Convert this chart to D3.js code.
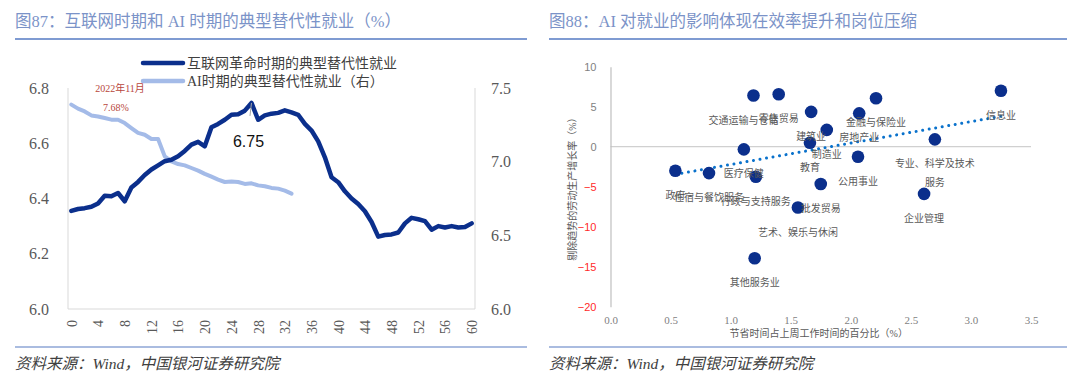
<!DOCTYPE html>
<html>
<head>
<meta charset="utf-8">
<script src="https://cdn.jsdelivr.net/npm/d3@7"></script>
<style>
  body { margin: 0; background: #fff; }
  svg text { font-family: "Liberation Serif", "Noto Sans CJK SC", serif; }
</style>
</head>
<body>
<div id="chart"></div>
<script>
// Left chart data: months since start, two series
var months = d3.range(0, 61);
var netEra = [6.355, 6.362, 6.365, 6.37, 6.382, 6.41, 6.408, 6.42, 6.39, 6.44,
  6.46, 6.485, 6.505, 6.52, 6.535, 6.54, 6.553, 6.572, 6.595, 6.605,
  6.589, 6.658, 6.67, 6.685, 6.703, 6.705, 6.718, 6.746, 6.685, 6.701,
  6.707, 6.71, 6.719, 6.712, 6.703, 6.67, 6.646, 6.607, 6.549, 6.477,
  6.459, 6.426, 6.40, 6.38, 6.354, 6.315, 6.262, 6.268, 6.27, 6.277,
  6.31, 6.33, 6.325, 6.318, 6.287, 6.30, 6.295, 6.30, 6.295, 6.297, 6.31];
var aiEra = [7.387, 7.36, 7.341, 7.314, 7.307, 7.296, 7.285, 7.285, 7.262, 7.228,
  7.195, 7.183, 7.154, 7.154, 7.036, 7.002, 6.984, 6.975, 6.957, 6.939,
  6.917, 6.898, 6.878, 6.862, 6.866, 6.862, 6.849, 6.853, 6.839, 6.833,
  6.822, 6.817, 6.803, 6.783];
var leftTicks = [6.0, 6.2, 6.4, 6.6, 6.8];
var rightTicks = [6.0, 6.5, 7.0, 7.5];
var monthTicks = d3.range(0, 61, 4);
var peakIndex = 27;

// Right chart data: industries
var industries = ["交通运输与仓储", "零售贸易", "建筑业", "教育", "医疗保健", "政府",
  "住宿与餐饮服务", "行政与支持服务", "艺术、娱乐与休闲", "批发贸易", "企业管理", "信息业",
  "其他服务业", "金融与保险业", "房地产业", "制造业", "公用事业", "专业、科学及技术|服务"];
var timeSaved = [1.19, 1.40, 1.67, 1.66, 1.11, 0.54, 0.82, 1.21, 1.56, 1.75, 2.61, 3.25,
  1.20, 2.21, 2.07, 1.80, 2.06, 2.70];
var productivity = [6.4, 6.55, 4.35, 0.5, -0.33, -3.0, -3.3, -3.75, -7.6, -4.67, -5.9, 7.0,
  -13.95, 6.05, 4.17, 2.1, -1.25, 0.92];
var scatterYTicks = [-20, -15, -10, -5, 0, 5, 10];
var scatterXTicks = [0, 0.5, 1.0, 1.5, 2.0, 2.5, 3.0, 3.5];

var svgWidth = 1080;
var svgHeight = 379;
var dark = "#0b2f8c";
var light = "#a4bbe8";
var grey = "#595959";

// labels the source nudged sideways
var labelShift = { "交通运输与仓储": -10 };

var svg = d3.select("#chart").append("svg")
  .attr("width", svgWidth)
  .attr("height", svgHeight);

// ---------- headers & footers ----------
function panelFrame(x0, x1, title) {
  svg.append("text")
    .attr("x", x0).attr("y", 27)
    .attr("font-size", 16.5)
    .attr("fill", "#7b93c8")
    .text(title);
  svg.append("line")
    .attr("x1", x0).attr("x2", x1).attr("y1", 39).attr("y2", 39)
    .attr("stroke", "#7f9bd2").attr("stroke-width", 2);
  svg.append("line")
    .attr("x1", x0).attr("x2", x1).attr("y1", 347).attr("y2", 347)
    .attr("stroke", "#8ea6d6").attr("stroke-width", 1.5);
  svg.append("text")
    .attr("x", x0).attr("y", 369)
    .attr("font-size", 15.5)
    .attr("font-style", "italic")
    .attr("fill", "#404040")
    .text("资料来源：Wind，中国银河证券研究院");
}
panelFrame(15, 527, "图87：互联网时期和 AI 时期的典型替代性就业（%）");
panelFrame(549, 1067, "图88：AI 对就业的影响体现在效率提升和岗位压缩");

// ---------- left chart ----------
var plot = { left: 68, right: 475, top: 88, bottom: 309 };

var xScale = d3.scaleLinear().domain([-0.5, 60.5]).range([plot.left, plot.right]);
var yLeft = d3.scaleLinear().domain([6.0, 6.8]).range([plot.bottom, plot.top]);
var yRight = d3.scaleLinear().domain([6.0, 7.5]).range([plot.bottom, plot.top]);

var frame = svg.append("g").attr("stroke", "#d9d9d9").attr("stroke-width", 1);
frame.append("line").attr("x1", plot.left).attr("x2", plot.left).attr("y1", plot.top).attr("y2", plot.bottom);
frame.append("line").attr("x1", plot.right).attr("x2", plot.right).attr("y1", plot.top).attr("y2", plot.bottom);
frame.append("line").attr("x1", plot.left).attr("x2", plot.right).attr("y1", plot.bottom).attr("y2", plot.bottom);

var leftAxis = svg.append("g")
  .attr("transform", `translate(${plot.left - 16}, 0)`)
  .call(d3.axisLeft(yLeft).tickValues(leftTicks).tickSize(0).tickFormat(d3.format(".1f")));
leftAxis.select(".domain").remove();
leftAxis.selectAll("text").attr("font-size", 16).attr("fill", grey)
  .style("font-family", "Liberation Serif");

var rightAxis = svg.append("g")
  .attr("transform", `translate(${plot.right + 13}, 0)`)
  .call(d3.axisRight(yRight).tickValues(rightTicks).tickSize(0).tickFormat(d3.format(".1f")));
rightAxis.select(".domain").remove();
rightAxis.selectAll("text").attr("font-size", 16).attr("fill", grey)
  .style("font-family", "Liberation Serif");

var bottomAxis = svg.append("g")
  .attr("transform", `translate(0, ${plot.bottom})`)
  .call(d3.axisBottom(xScale).tickValues(monthTicks).tickSize(0));
bottomAxis.select(".domain").remove();
bottomAxis.selectAll("text")
  .attr("font-size", 14).attr("fill", grey)
  .style("font-family", "Liberation Serif")
  .attr("transform", "rotate(-90)")
  .attr("text-anchor", "end")
  .attr("x", -11).attr("y", 0).attr("dy", "0.35em");

var lineGen = function (scale) {
  return d3.line()
    .x(function (d, i) { return xScale(months[i]); })
    .y(function (d) { return scale(d); });
};

svg.append("path").datum(aiEra)
  .attr("d", lineGen(yRight))
  .attr("fill", "none").attr("stroke", light).attr("stroke-width", 4)
  .attr("stroke-linejoin", "round").attr("stroke-linecap", "round");

svg.append("path").datum(netEra)
  .attr("d", lineGen(yLeft))
  .attr("fill", "none").attr("stroke", dark).attr("stroke-width", 4.5)
  .attr("stroke-linejoin", "round").attr("stroke-linecap", "round");

// peak annotation
var px = xScale(months[peakIndex]);
var py = yLeft(netEra[peakIndex]);
svg.append("line")
  .attr("x1", px).attr("y1", py).attr("x2", px - 1.5).attr("y2", py + 13)
  .attr("stroke", "#a6a6a6").attr("stroke-width", 1);
svg.append("text")
  .attr("x", px - 3).attr("y", py + 44)
  .attr("text-anchor", "middle")
  .attr("font-size", 16)
  .style("font-family", "Liberation Sans")
  .attr("fill", "#111")
  .text(d3.format(".2f")(netEra[peakIndex]));

// 2022 note
svg.append("text").attr("x", 120).attr("y", 92).attr("text-anchor", "middle")
  .attr("font-size", 10).attr("fill", "#b8463c").text("2022年11月");
svg.append("text").attr("x", 116).attr("y", 111).attr("text-anchor", "middle")
  .attr("font-size", 10).attr("fill", "#b8463c").text("7.68%");

// legend
var legend = svg.append("g").attr("transform", "translate(143, 63)");
[["互联网革命时期的典型替代性就业", dark], ["AI时期的典型替代性就业（右）", light]].forEach(function (item, i) {
  var g = legend.append("g").attr("transform", `translate(0, ${i * 18})`);
  g.append("line").attr("x1", 0).attr("x2", 40).attr("y1", 0).attr("y2", 0)
    .attr("stroke", item[1]).attr("stroke-width", 4.5).attr("stroke-linecap", "round");
  g.append("text").attr("x", 44).attr("y", 5)
    .attr("font-size", 14).attr("fill", "#404040").text(item[0]);
});

// ---------- right chart ----------
var sx = d3.scaleLinear().domain([0, 3.5]).range([610.5, 1031]);
var sy = d3.scaleLinear().domain([-20, 10]).range([306.7, 66.7]);

svg.append("line")
  .attr("x1", sx(0)).attr("x2", sx(3.5)).attr("y1", sy(0)).attr("y2", sy(0))
  .attr("stroke", "#d0d0d0").attr("stroke-width", 1.2);

var sAxisY = svg.append("g")
  .attr("transform", `translate(${sx(0)}, 0)`)
  .call(d3.axisLeft(sy).tickValues(scatterYTicks).tickSize(0).tickPadding(14));
sAxisY.select(".domain").attr("stroke", "#bfbfbf").attr("stroke-width", 1.2);
sAxisY.selectAll("text").attr("font-size", 11)
  .style("font-family", "Liberation Sans")
  .attr("fill", function (d) { return d < 0 ? "#ff2a2a" : "#7f7f7f"; });

var sAxisX = svg.append("g")
  .attr("transform", `translate(0, ${sy(-20)})`)
  .call(d3.axisBottom(sx).tickValues(scatterXTicks).tickSize(0).tickPadding(10).tickFormat(d3.format(".1f")));
sAxisX.select(".domain").remove();
sAxisX.selectAll("text").attr("font-size", 11).attr("fill", "#7f7f7f");

svg.append("text")
  .attr("x", (sx(0) + sx(3.5)) / 2 - 2).attr("y", 337)
  .attr("text-anchor", "middle").attr("font-size", 10).attr("fill", grey)
  .text("节省时间占上周工作时间的百分比（%）");
svg.append("text")
  .attr("transform", `translate(576, ${(sy(10) + sy(-20)) / 2}) rotate(-90)`)
  .attr("text-anchor", "middle").attr("font-size", 10).attr("fill", grey)
  .text("剔除趋势的劳动生产增长率（%）");

// trend line (least squares)
var mx = d3.mean(timeSaved), my = d3.mean(productivity);
var sxy = d3.sum(timeSaved, function (x, i) { return (x - mx) * (productivity[i] - my); });
var sxx = d3.sum(timeSaved, function (x) { return (x - mx) * (x - mx); });
var slope = sxy / sxx, intercept = my - slope * mx;
var xExt = d3.extent(timeSaved);
svg.append("line")
  .attr("x1", sx(xExt[0])).attr("y1", sy(intercept + slope * xExt[0]))
  .attr("x2", sx(xExt[1])).attr("y2", sy(intercept + slope * xExt[1]))
  .attr("stroke", "#0a72cc").attr("stroke-width", 3)
  .attr("stroke-dasharray", "0.01 6.6").attr("stroke-linecap", "round");

var pts = industries.map(function (name, i) {
  return { name: name, x: timeSaved[i], y: productivity[i] };
});

svg.append("g").selectAll("circle")
  .data(pts).enter().append("circle")
  .attr("cx", function (d) { return sx(d.x); })
  .attr("cy", function (d) { return sy(d.y); })
  .attr("r", 6.3)
  .attr("fill", dark);

var labels = svg.append("g").selectAll("text")
  .data(pts).enter().append("text")
  .attr("y", function (d) { return sy(d.y) + 28; })
  .attr("text-anchor", "middle")
  .attr("font-size", 10)
  .attr("fill", grey);
labels.each(function (d) {
  var parts = d.name.split("|");
  var t = d3.select(this);
  var lx = sx(d.x) + (labelShift[d.name] || 0);
  parts.forEach(function (p, k) {
    t.append("tspan").attr("x", lx).attr("dy", k === 0 ? 0 : 18.7).text(p);
  });
});
</script>
</body>
</html>
